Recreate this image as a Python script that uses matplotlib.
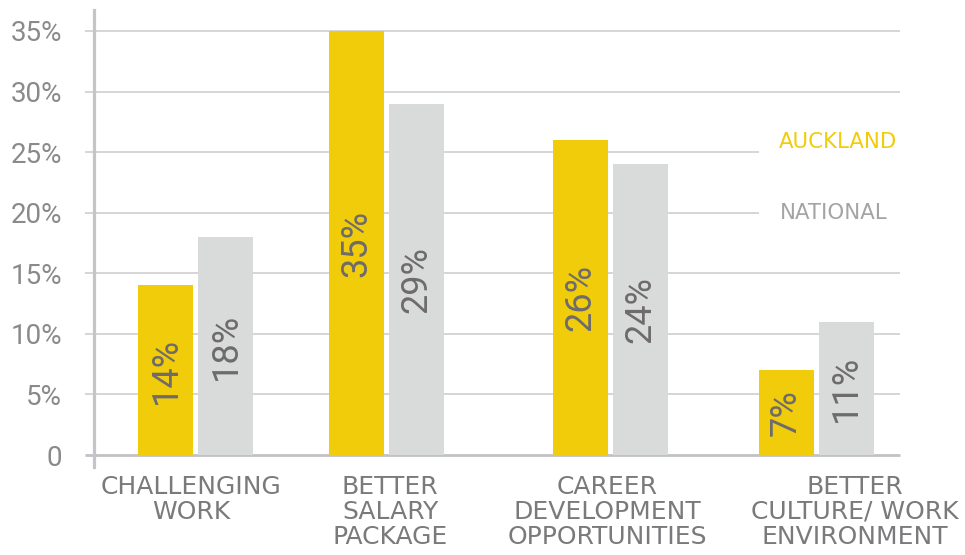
import matplotlib
matplotlib.use("Agg")
import matplotlib.pyplot as plt
import matplotlib.transforms as mtransforms

# ---- data ----
categories = ["CHALLENGING\nWORK", "BETTER\nSALARY\nPACKAGE",
              "CAREER\nDEVELOPMENT\nOPPORTUNITIES", "BETTER\nCULTURE/ WORK\nENVIRONMENT"]
auckland = [14, 35, 26, 7]
national = [18, 29, 24, 11]
yticks = [0, 5, 10, 15, 20, 25, 30, 35]
ytick_labels = ["0", "5%", "10%", "15%", "20%", "25%", "30%", "35%"]
series_names = ["AUCKLAND", "NATIONAL"]

# ---- layout (pixel-like units from the y axis) ----
group_pos = [101.5, 292.5, 516, 722]
label_pos = [97, 296, 513, 761]
bar_w = 55
bar_off = 30

YELLOW = "#F0CC0A"
GREY_BAR = "#D9DADA"
GRID = "#CACACC"
TICK_TXT = "#8A8A8C"
CAT_TXT = "#7A7A7C"
VAL_TXT = "#6E6B6B"
NAT_TXT = "#A4A4A6"

W, H = 965, 555
fig = plt.figure(figsize=(W / 100, H / 100), dpi=100)
ax = fig.add_axes([94 / W, (H - 467) / H, (900 - 94) / W, (467 - 10) / H])
ax.set_xlim(0, 806)
ax.set_ylim(-0.99, 36.73)

for s in ["top", "right", "bottom"]:
    ax.spines[s].set_visible(False)
ax.spines["left"].set_color("#C5C5C9")
ax.spines["left"].set_linewidth(2.3)
ax.spines["left"].set_zorder(1)

ax.set_xticks([])
ax.set_yticks(yticks)
ax.set_yticklabels(ytick_labels, fontfamily="Roboto", fontsize=20, color=TICK_TXT)
ax.tick_params(axis="y", length=0, pad=23)

# gridlines (extend slightly left of the spine)
ytr = ax.get_yaxis_transform()
left = -9 / 806
for t in yticks:
    if t == 0:
        ax.hlines(t, left, 1, transform=ytr, color="#C2C2C5", lw=2.0, clip_on=False, zorder=0)
    elif t in (20, 25):
        ax.hlines(t, left, (759 - 94) / 806, transform=ytr, color=GRID, lw=1.1, clip_on=False, zorder=0)
    else:
        ax.hlines(t, left, 1, transform=ytr, color=GRID, lw=1.1, clip_on=False, zorder=0)

xa = [p - bar_off for p in group_pos]
xn = [p + bar_off for p in group_pos]
ax.bar(xa, auckland, width=bar_w, color=YELLOW, zorder=2)
ax.bar(xn, national, width=bar_w, color=GREY_BAR, zorder=2)

for x, v in zip(xa, auckland):
    ax.text(x, v / 2, f"{v}%", rotation=90, ha="center", va="center",
            fontfamily="Roboto", fontsize=26, color=VAL_TXT, zorder=3)
for x, v in zip(xn, national):
    ax.text(x, v / 2, f"{v}%", rotation=90, ha="center", va="center",
            fontfamily="Roboto", fontsize=26, color=VAL_TXT, zorder=3)

# category labels
btr = mtransforms.blended_transform_factory(ax.transData, fig.transFigure)
for x, lab in zip(label_pos, categories):
    ax.text(x, (H - 475) / H, lab, transform=btr, ha="center", va="top",
            fontfamily="DejaVu Sans", fontsize=18, color=CAT_TXT,
            linespacing=1.04, multialignment="center", clip_on=False)

# legend texts
ax.text(779 - 94, 25.8, series_names[0], ha="left", va="center",
        fontfamily="DejaVu Sans", fontsize=15.3, color=YELLOW)
ax.text(780 - 94, 20.0, series_names[1], ha="left", va="center",
        fontfamily="DejaVu Sans", fontsize=15.3, color=NAT_TXT)

fig.savefig("out.png", dpi=100)
